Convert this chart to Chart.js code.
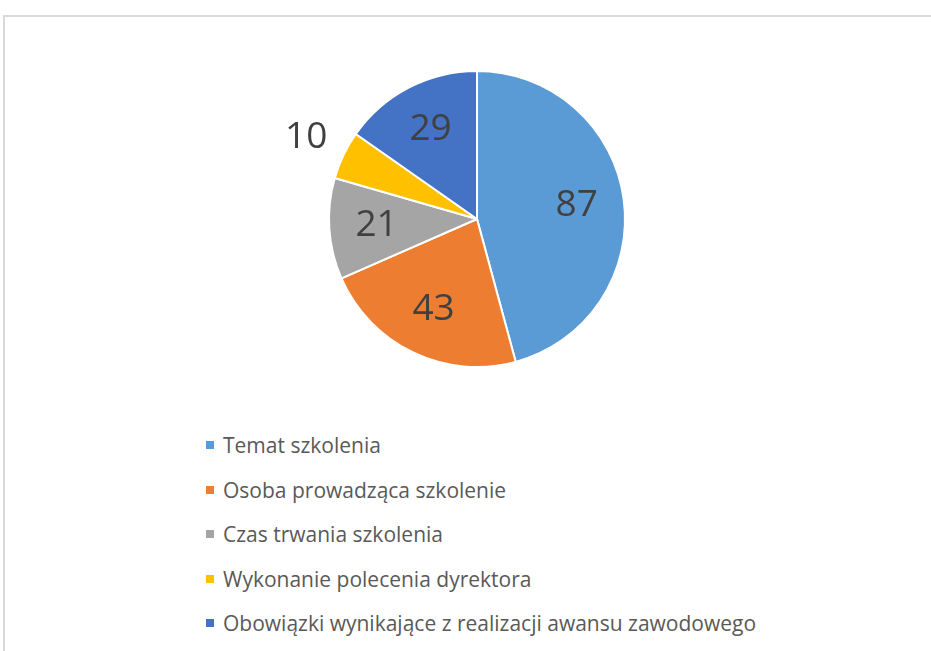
<!DOCTYPE html>
<html>
<head>
<meta charset="utf-8">
<script src="https://cdn.jsdelivr.net/npm/chart.js@4/dist/chart.umd.min.js"></script>
<style>
    body { margin: 0; background: #fff; width: 931px; height: 651px; overflow: hidden; position: relative; font-family: "Open Sans", sans-serif; }
    #frame { position: absolute; left: 3px; top: 15px; width: 940px; height: 660px; border-top: 2px solid #d9d9d9; border-left: 2px solid #d9d9d9; }
    #wrap { position: absolute; left: 277px; top: 19px; width: 400px; height: 400px; }
    #legend { position: absolute; left: 206px; top: 423px; }
    .item { height: 44.5px; display: flex; align-items: center; font-size: 21px; color: #595959; white-space: nowrap; }
    .box { width: 8px; height: 8px; margin-right: 9px; flex: none; }
</style>
</head>
<body>
<div id="frame"></div>
<div id="wrap"><canvas id="chart"></canvas></div>
<div id="legend"></div>
<script>
const categories = [
    'Temat szkolenia',
    'Osoba prowadząca szkolenie',
    'Czas trwania szkolenia',
    'Wykonanie polecenia dyrektora',
    'Obowiązki wynikające z realizacji awansu zawodowego'
];
const values = [87, 43, 21, 10, 29];
const colors = ['#5B9BD5', '#ED7D31', '#A5A5A5', '#FFC000', '#4472C4'];

let myChart = null;

// value labels: inside the slice, or just outside it when the slice is thin
const valueLabels = {
    id: 'valueLabels',
    afterDatasetsDraw(chart) {
        let ctx = chart.ctx;
        let meta = chart.getDatasetMeta(0);
        let total = values.reduce((a, b) => a + b, 0);
        ctx.save();
        ctx.font = '37px "Open Sans", sans-serif';
        ctx.fillStyle = '#404040';
        ctx.textAlign = 'center';
        ctx.textBaseline = 'middle';
        meta.data.forEach(function (arc, i) {
            let p = arc.getProps(['x', 'y', 'startAngle', 'endAngle', 'outerRadius'], true);
            let mid = (p.startAngle + p.endAngle) / 2;
            let r = values[i] / total < 0.06 ? p.outerRadius * 1.28 : p.outerRadius * 0.68;
            ctx.fillText(String(values[i]), p.x + Math.cos(mid) * r, p.y + Math.sin(mid) * r);
        });
        ctx.restore();
    }
};

function initChart() {
    let ctx = document.getElementById('chart').getContext('2d');
    myChart = new Chart(ctx, {
        type: 'pie',
        data: {
            labels: categories,
            datasets: [{
                data: values,
                backgroundColor: colors,
                borderColor: '#ffffff',
                borderWidth: 2
            }]
        },
        options: {
            responsive: true,
            maintainAspectRatio: false,
            animation: false,
            layout: { padding: 51 },
            plugins: {
                legend: { display: false },
                tooltip: { enabled: false }
            }
        },
        plugins: [valueLabels]
    });
}

function buildLegend() {
    let legend = document.getElementById('legend');
    for (let i = 0; i < categories.length; ++i) {
        let item = document.createElement('div');
        item.className = 'item';
        let box = document.createElement('span');
        box.className = 'box';
        box.style.background = colors[i];
        item.appendChild(box);
        item.appendChild(document.createTextNode(categories[i]));
        legend.appendChild(item);
    }
}

initChart();
buildLegend();
</script>
</body>
</html>
